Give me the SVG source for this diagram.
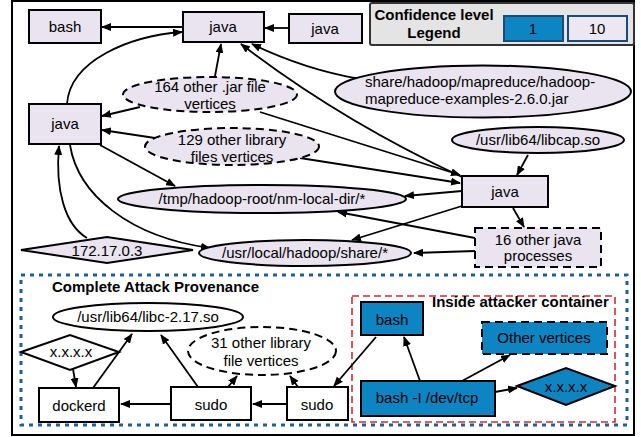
<svg xmlns="http://www.w3.org/2000/svg" width="641" height="437" viewBox="0 0 641 437">
<defs>
<marker id="ah" markerUnits="userSpaceOnUse" markerWidth="10" markerHeight="8" refX="9" refY="4" orient="auto">
<path d="M0,0 L10,4 L0,8 z" fill="#000"/>
</marker>
<style>
text{font-family:"Liberation Sans",Arial,sans-serif;font-size:15px;fill:#000;text-anchor:middle}
.b{font-weight:bold}
.n{fill:#e9e4f0;stroke:#000;stroke-width:2}
.w{fill:#fff;stroke:#000;stroke-width:2}
.bl{fill:#0d85c2;stroke:#000;stroke-width:2}
.d{stroke-dasharray:8 5}
.e{fill:none;stroke:#000;stroke-width:1.8;marker-end:url(#ah)}
</style>
</defs>
<rect x="12" y="1" width="622" height="434" fill="#fff" stroke="#000" stroke-width="2"/>
<g id="legend">
<rect x="370" y="3" width="264" height="42" rx="2" fill="#e4e4e4" stroke="#333" stroke-width="2"/>
<text class="b" x="434" y="20">Confidence level</text>
<text class="b" x="434" y="38">Legend</text>
<rect x="504" y="16" width="59" height="25" fill="#0d85c2" stroke="#1a4a78" stroke-width="2"/>
<text x="533" y="34">1</text>
<rect x="568" y="16" width="59" height="25" fill="#ece8f2" stroke="#1a4a78" stroke-width="2"/>
<text x="597" y="34">10</text>
</g>
<g id="regions">
<rect x="21" y="275" width="606" height="150" fill="none" stroke="#1f5f9f" stroke-width="3" stroke-dasharray="4 5"/>
<text class="b" x="52" y="292" style="text-anchor:start">Complete Attack Provenance</text>
<rect x="352" y="296" width="263" height="126" fill="none" stroke="#d42a34" stroke-width="1.6" stroke-dasharray="7 4"/>
<text class="b" x="432" y="307" style="text-anchor:start">Inside attacker container</text>
</g>
<g id="connectors">
<path class="e" d="M183 27 L102 27"/>
<path class="e" d="M289 28 L265 28"/>
<path class="e" d="M67 104 C70 60 130 36 182 32"/>
<path class="e" d="M215 76 L221 44"/>
<path class="e" d="M140 107 L102 116"/>
<path class="e" d="M155 138 L102 130"/>
<path class="e" d="M360 79 C320 72 285 60 252 44"/>
<path class="e" d="M462 177 Q340 120 241 44"/>
<path class="e" d="M260 112 L460 175"/>
<path class="e" d="M300 158 L460 183"/>
<path class="e" d="M100 145 L175 186"/>
<path class="e" d="M87 238 C65 225 55 190 59 146"/>
<path class="e" d="M70 145 C78 195 130 237 210 248"/>
<path class="e" d="M462 191 L405 196"/>
<path class="e" d="M475 238 L338 212"/>
<path class="e" d="M462 206 L352 240"/>
<path class="e" d="M475 251 L414 253"/>
<path class="e" d="M528 155 L517 175"/>
<path class="e" d="M513 208 L524 227"/>
<path class="e" d="M73 369 L76 387"/>
<path class="e" d="M93 388 L132 334"/>
<path class="e" d="M171 404 L121 404"/>
<path class="e" d="M198 387 L161 335"/>
<path class="e" d="M228 387 L237 376"/>
<path class="e" d="M287 404 L253 404"/>
<path class="e" d="M298 387 L290 376"/>
<path class="e" d="M376 337 L334 386"/>
<path class="e" d="M420 381 L404 337"/>
<path class="e" d="M462 381 L510 355"/>
<path class="e" d="M495 392 L517 388"/>
</g>
<g id="bash1"><rect class="n" x="29" y="10" width="72" height="33"/><text x="65" y="32">bash</text></g>
<g id="java_top"><rect class="n" x="183" y="12" width="81" height="30"/><text x="223" y="32">java</text></g>
<g id="java_tr"><rect class="n" x="289" y="14" width="73" height="29"/><text x="325" y="34">java</text></g>
<g id="java_left"><rect class="n" x="29" y="104" width="72" height="40"/><text x="65" y="129">java</text></g>
<g id="jar164"><ellipse class="n d" cx="210" cy="94.5" rx="87" ry="17.5"/><text x="210" y="92">164 other .jar file</text><text x="210" y="109">vertices</text></g>
<g id="lib129"><ellipse class="n d" cx="232" cy="146.5" rx="87" ry="18.5"/><text x="232" y="144.5">129 other library</text><text x="232" y="161.5">files vertices</text></g>
<g id="mrjar"><ellipse class="n" cx="483" cy="91.5" rx="148" ry="26"/><text x="365" y="87" style="text-anchor:start">share/hadoop/mapreduce/hadoop-</text><text x="365" y="104" style="text-anchor:start">mapreduce-examples-2.6.0.jar</text></g>
<g id="libcap"><ellipse class="n" cx="538" cy="140" rx="86" ry="13"/><text x="538" y="145">/usr/lib64/libcap.so</text></g>
<g id="java_mid"><rect class="n" x="462" y="176" width="86" height="31"/><text x="505" y="197">java</text></g>
<g id="tmp"><ellipse class="n" cx="262" cy="199" rx="144" ry="14"/><text x="262" y="204">/tmp/hadoop-root/nm-local-dir/*</text></g>
<g id="ip"><polygon class="n" points="21,250 107,237 193,250 107,263"/><text x="107" y="256">172.17.0.3</text></g>
<g id="share"><ellipse class="n" cx="305" cy="253" rx="106" ry="13"/><text x="305" y="258">/usr/local/hadoop/share/*</text></g>
<g id="java16"><rect class="n d" x="475" y="228" width="126" height="39"/><text x="538" y="245">16 other java</text><text x="538" y="261">processes</text></g>
<g id="libc"><ellipse class="w" cx="148" cy="317" rx="95" ry="14"/><text x="148" y="322">/usr/lib64/libc-2.17.so</text></g>
<g id="ipx"><polygon class="w" points="21,352 70,335 119,352 70,370"/><text x="71" y="357">x.x.x.x</text></g>
<g id="dockerd"><rect class="w" x="39" y="388" width="80" height="34"/><text x="79" y="411">dockerd</text></g>
<g id="sudo1"><rect class="w" x="171" y="387" width="80" height="33"/><text x="211" y="410">sudo</text></g>
<g id="sudo2"><rect class="w" x="287" y="387" width="61" height="33"/><text x="317" y="410">sudo</text></g>
<g id="lib31"><ellipse class="w d" cx="262" cy="351" rx="74" ry="24"/><text x="261" y="348">31 other library</text><text x="261" y="366">file vertices</text></g>
<g id="bash2"><rect class="bl" x="361" y="302" width="62" height="33"/><text x="392" y="325">bash</text></g>
<g id="other"><rect class="bl d" x="482" y="322" width="125" height="32"/><text x="544" y="343">Other vertices</text></g>
<g id="bashtcp"><rect class="bl" x="361" y="381" width="134" height="35"/><text x="427" y="403">bash -I /dev/tcp</text></g>
<g id="ipx2"><polygon class="bl" points="517,386 566,368 615,386 566,405"/><text x="566" y="392">x.x.x.x</text></g>
</svg>
